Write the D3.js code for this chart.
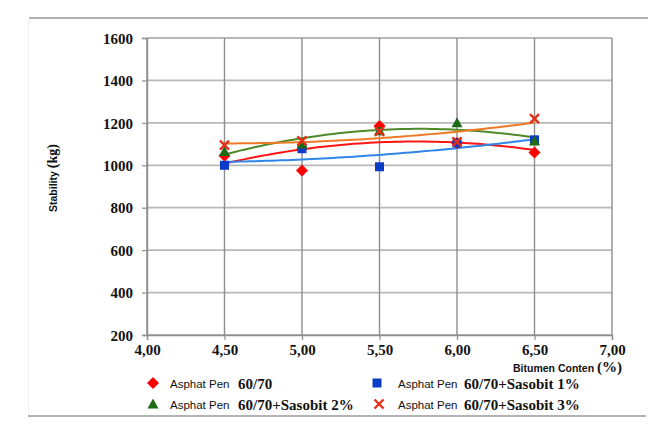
<!DOCTYPE html>
<html>
<head>
<meta charset="utf-8">
<script src="https://cdn.jsdelivr.net/npm/d3@7"></script>
<style>
html,body{margin:0;padding:0;background:#fff;}
svg{display:block;}
</style>
</head>
<body>
<svg id="chart" width="660" height="441"></svg>
<script>
// ---- data ----
const bitumenContent = [4.5, 5.0, 5.5, 6.0, 6.5];
const pen6070      = [1045, 975, 1185, 1105, 1060];
const sasobit1     = [1000, 1078, 993, 1105, 1120];
const sasobit2     = [1065, 1100, 1163, 1200, 1115];
const sasobit3     = [1095, 1115, 1160, 1110, 1220];
const xTickValues  = [4.0, 4.5, 5.0, 5.5, 6.0, 6.5, 7.0];
const yTickValues  = [200, 400, 600, 800, 1000, 1200, 1400, 1600];
const seriesNames  = ["60/70", "60/70+Sasobit 1%", "60/70+Sasobit 2%", "60/70+Sasobit 3%"];

const series = [
  {name: seriesNames[0], values: pen6070, marker: "diamond", fill: "#ff0000", line: "#ff1414"},
  {name: seriesNames[1], values: sasobit1, marker: "square", fill: "#0a3cc8", line: "#2f86e6"},
  {name: seriesNames[2], values: sasobit2, marker: "triangle", fill: "#1d6b14", line: "#4f8a2a"},
  {name: seriesNames[3], values: sasobit3, marker: "cross", fill: "#e2301a", line: "#f07a25"}
];

const svg = d3.select("#chart");
const serif = "'Liberation Serif','Times New Roman',serif";
const sans = "'Liberation Sans',Arial,sans-serif";

const x = d3.scaleLinear().domain([4, 7]).range([147, 612]);
const y = d3.scaleLinear().domain([200, 1600]).range([335, 38]);

// outer frame lines
svg.append("line").attr("x1", 29).attr("x2", 648).attr("y1", 18).attr("y2", 18)
  .attr("stroke", "#9a9a9a").attr("stroke-width", 1.5);
svg.append("line").attr("x1", 28).attr("x2", 646).attr("y1", 416).attr("y2", 416)
  .attr("stroke", "#9a9a9a").attr("stroke-width", 1.5);
svg.append("line").attr("x1", 28.5).attr("x2", 28.5).attr("y1", 19).attr("y2", 415)
  .attr("stroke", "#f0f0f0").attr("stroke-width", 1);

// horizontal gridlines
svg.append("g").selectAll("line").data(yTickValues).join("line")
  .attr("x1", x(4)).attr("x2", x(7))
  .attr("y1", d => y(d)).attr("y2", d => y(d))
  .attr("stroke", "#b8b8b8").attr("stroke-width", 1.8);

// vertical gridlines
svg.append("g").selectAll("line").data(xTickValues).join("line")
  .attr("x1", d => x(d)).attr("x2", d => x(d))
  .attr("y1", y(1600)).attr("y2", y(200))
  .attr("stroke", "#8e8e8e").attr("stroke-width", 1.4);

// axes
const fmt = d => d3.format(".2f")(d).replace(".", ",");
const xAxis = svg.append("g").attr("transform", `translate(0,${y(200)})`)
  .call(d3.axisBottom(x).tickValues(xTickValues).tickFormat(fmt).tickSize(5).tickPadding(4));
const yAxis = svg.append("g").attr("transform", `translate(${x(4)},0)`)
  .call(d3.axisLeft(y).tickValues(yTickValues).tickFormat(d3.format("d")).tickSize(5).tickPadding(9));
[xAxis, yAxis].forEach(g => {
  g.select(".domain").attr("stroke", "#8e8e8e").attr("stroke-width", 1.4);
  g.selectAll(".tick line").attr("stroke", "#8e8e8e").attr("stroke-width", 1.2);
  g.selectAll("text").attr("font-family", serif).attr("font-weight", "bold")
    .attr("font-size", "15px").attr("fill", "#111");
});
yAxis.selectAll("text").attr("dy", "0.35em");

// quadratic least squares trend
function quadFit(xs, ys) {
  const n = xs.length;
  let s = [0,0,0,0,0], t = [0,0,0];
  for (let i = 0; i < n; i++) {
    let p = 1;
    for (let k = 0; k < 5; k++) { s[k] += p; if (k < 3) t[k] += p * ys[i]; p *= xs[i]; }
  }
  const A = [[s[0],s[1],s[2],t[0]],[s[1],s[2],s[3],t[1]],[s[2],s[3],s[4],t[2]]];
  for (let c = 0; c < 3; c++) {
    for (let r = c + 1; r < 3; r++) {
      const f = A[r][c] / A[c][c];
      for (let k = c; k < 4; k++) A[r][k] -= f * A[c][k];
    }
  }
  const b = [0,0,0];
  for (let r = 2; r >= 0; r--) {
    let v = A[r][3];
    for (let k = r + 1; k < 3; k++) v -= A[r][k] * b[k];
    b[r] = v / A[r][r];
  }
  return xv => b[0] + b[1] * xv + b[2] * xv * xv;
}

const line = d3.line().x(d => x(d[0])).y(d => y(d[1])).curve(d3.curveLinear);
const xMin = d3.min(bitumenContent), xMax = d3.max(bitumenContent);
const samples = d3.range(0, 61).map(i => xMin + (xMax - xMin) * i / 60);

series.forEach(s => {
  const f = quadFit(bitumenContent, s.values);
  svg.append("path").datum(samples.map(v => [v, f(v)]))
    .attr("d", line).attr("fill", "none")
    .attr("stroke", s.line).attr("stroke-width", 2);
});

function drawMarker(g, type, cx, cy, color) {
  if (type === "diamond") {
    g.append("path").attr("d", `M${cx},${cy-6}L${cx+6},${cy}L${cx},${cy+6}L${cx-6},${cy}Z`)
      .attr("fill", color);
  } else if (type === "square") {
    g.append("rect").attr("x", cx - 4.5).attr("y", cy - 4.5).attr("width", 9).attr("height", 9)
      .attr("fill", color);
  } else if (type === "triangle") {
    g.append("path").attr("d", `M${cx},${cy-5.5}L${cx+5.5},${cy+4.5}L${cx-5.5},${cy+4.5}Z`)
      .attr("fill", color);
  } else if (type === "cross") {
    g.append("path").attr("d", `M${cx-4.5},${cy-4.5}L${cx+4.5},${cy+4.5}M${cx-4.5},${cy+4.5}L${cx+4.5},${cy-4.5}`)
      .attr("stroke", color).attr("stroke-width", 2.4).attr("fill", "none");
  }
}

const mg = svg.append("g");
series.forEach(s => {
  s.values.forEach((v, i) => drawMarker(mg, s.marker, x(bitumenContent[i]), y(v), s.fill));
});

// axis titles
const xt = svg.append("text").attr("x", 622).attr("y", 372).attr("text-anchor", "end")
  .attr("fill", "#111");
xt.append("tspan").attr("font-family", sans).attr("font-weight", "bold").attr("font-size", "10.5px")
  .text("Bitumen Conten ");
xt.append("tspan").attr("font-family", serif).attr("font-weight", "bold").attr("font-size", "15px")
  .text(" (%)");

const yt = svg.append("text").attr("transform", "translate(57,212) rotate(-90)")
  .attr("text-anchor", "start").attr("fill", "#111");
yt.append("tspan").attr("font-family", sans).attr("font-weight", "bold").attr("font-size", "10.5px")
  .text("Stability ");
yt.append("tspan").attr("font-family", serif).attr("font-weight", "bold").attr("font-size", "14px")
  .text(" (kg)");

// legend
const legendPos = [
  {mx: 153, tx: 170, sx: 238, y: 384},
  {mx: 377, tx: 398, sx: 464, y: 384},
  {mx: 153, tx: 170, sx: 238, y: 405},
  {mx: 379, tx: 398, sx: 464, y: 405}
];
series.forEach((s, i) => {
  const p = legendPos[i];
  drawMarker(svg, s.marker, p.mx, p.y - 1, s.fill);
  svg.append("text").attr("x", p.tx).attr("y", p.y + 3.5)
    .attr("font-family", sans).attr("font-size", "11.5px").attr("fill", "#111")
    .text("Asphat Pen");
  svg.append("text").attr("x", p.sx).attr("y", p.y + 4.5)
    .attr("font-family", serif).attr("font-weight", "bold").attr("font-size", "15px").attr("fill", "#111")
    .text(s.name);
});
</script>
</body>
</html>
